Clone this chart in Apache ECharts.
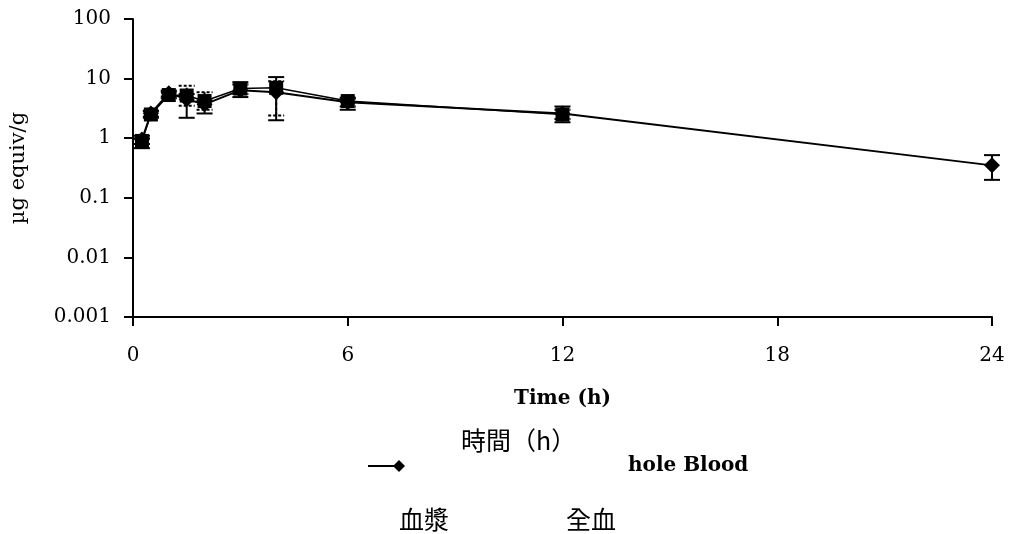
<!DOCTYPE html>
<html><head><meta charset="utf-8">
<script src="https://cdn.jsdelivr.net/npm/echarts@6/dist/echarts.min.js"></script>
<style>html,body{margin:0;padding:0;background:#fff}#c{width:1011px;height:534px}</style>
</head><body><div id="c"></div>
<script>
const xTicks = [0, 6, 12, 18, 24];
const yTicks = [0.001, 0.01, 0.1, 1, 10, 100];
const plasmaTime  = [0.25, 0.5, 1, 1.5, 2, 3, 4, 6, 12, 24];
const plasmaMean  = [0.95, 2.6, 5.7, 4.5, 3.7, 6.4, 5.9, 4.0, 2.6, 0.35];
const plasmaUpper = [1.1, 2.9, 6.3, 5.5, 4.3, 8.7, 10.6, 4.8, 3.4, 0.52];
const plasmaLower = [0.68, 2.3, 5.0, 2.2, 2.6, 4.9, 2.0, 3.0, 1.85, 0.2];
const bloodTime  = [0.25, 0.5, 1, 1.5, 2, 3, 4, 6, 12];
const bloodMean  = [0.9, 2.5, 5.3, 5.2, 4.2, 6.8, 7.0, 4.2, 2.5];
const bloodUpper = [1.0, 2.8, 6.0, 7.6, 5.9, 8.0, 9.0, 4.6, 3.0];
const bloodLower = [0.8, 2.2, 4.7, 3.5, 3.0, 5.5, 2.4, 3.4, 2.1];

const chart = echarts.init(document.getElementById('c'));
const serif = '"DejaVu Serif", "Liberation Serif", serif';
const cjk = '"Noto Sans CJK TC", "Noto Sans CJK SC", sans-serif';

function errSeries(name, t, up, lo, dashed) {
  return {
    type: 'custom', name: name, z: 5,
    data: t.map((x, i) => [x, lo[i], up[i]]),
    renderItem: function (params, api) {
      const x = api.value(0);
      const p1 = api.coord([x, api.value(1)]);
      const p2 = api.coord([x, api.value(2)]);
      const w = 8;
      const st = { stroke: '#000', lineWidth: 2, lineDash: dashed ? [3, 2] : null };
      return { type: 'group', children: [
        { type: 'line', shape: { x1: p1[0], y1: p1[1], x2: p2[0], y2: p2[1] }, style: st },
        { type: 'line', shape: { x1: p1[0] - w, y1: p1[1], x2: p1[0] + w, y2: p1[1] }, style: st },
        { type: 'line', shape: { x1: p2[0] - w, y1: p2[1], x2: p2[0] + w, y2: p2[1] }, style: st }
      ]};
    }
  };
}

chart.setOption({
  animation: false,
  backgroundColor: '#fff',
  grid: { left: 131, right: 19, top: 19, bottom: 217 },
  xAxis: {
    type: 'value', min: 0, max: 24, interval: 6,
    name: 'Time (h)', nameLocation: 'middle', nameGap: 72,
    nameTextStyle: { fontFamily: serif, fontSize: 20, fontWeight: 'bold', color: '#000' },
    axisLine: { lineStyle: { color: '#000', width: 2 } },
    axisTick: { show: true, length: 9, lineStyle: { color: '#000', width: 2 } },
    axisLabel: { fontFamily: serif, fontSize: 20, color: '#000', margin: 29 },
    splitLine: { show: false }
  },
  yAxis: {
    type: 'log', logBase: 10, min: 0.001, max: 100,
    name: 'µg equiv/g', nameLocation: 'middle', nameGap: 104, nameRotate: 90,
    nameTextStyle: { fontFamily: serif, fontSize: 21, color: '#000' },
    axisLine: { show: true, lineStyle: { color: '#000', width: 2 } },
    axisTick: { show: true, length: 9, lineStyle: { color: '#000', width: 2 } },
    axisLabel: { fontFamily: serif, fontSize: 20, color: '#000', margin: 22,
      formatter: v => { const r = yTicks.find(t => Math.abs(t - v) / t < 1e-6); return r === undefined ? '' : String(r); } },
    splitLine: { show: false }
  },
  series: [
    errSeries('bloodErr', bloodTime, bloodUpper, bloodLower, true),
    errSeries('plasmaErr', plasmaTime, plasmaUpper, plasmaLower, false),
    { type: 'line', name: '全血', data: bloodTime.map((t, i) => [t, bloodMean[i]]),
      symbol: 'rect', symbolSize: 14, itemStyle: { color: '#000' },
      lineStyle: { color: '#000', width: 1.5 }, z: 6 },
    { type: 'line', name: '血漿', data: plasmaTime.map((t, i) => [t, plasmaMean[i]]),
      symbol: 'diamond', symbolSize: 16, itemStyle: { color: '#000' },
      lineStyle: { color: '#000', width: 2 }, z: 7 }
  ],
  graphic: [
    { type: 'line', shape: { x1: 368, y1: 466, x2: 396, y2: 466 }, style: { stroke: '#000', lineWidth: 2 } },
    { type: 'polygon', shape: { points: [[399, 460], [405, 466], [399, 472], [393, 466]] }, style: { fill: '#000' } },
    { type: 'text', left: 461, top: 428, style: { text: '時間（h）', font: '25px ' + cjk, fill: '#000' } },
    { type: 'text', left: 628, top: 456, style: { text: 'hole Blood', font: 'bold 20px ' + serif, fill: '#000' } },
    { type: 'text', left: 399, top: 507, style: { text: '血漿', font: '25px ' + cjk, fill: '#000' } },
    { type: 'text', left: 566, top: 507, style: { text: '全血', font: '25px ' + cjk, fill: '#000' } }
  ]
});
</script></body></html>
